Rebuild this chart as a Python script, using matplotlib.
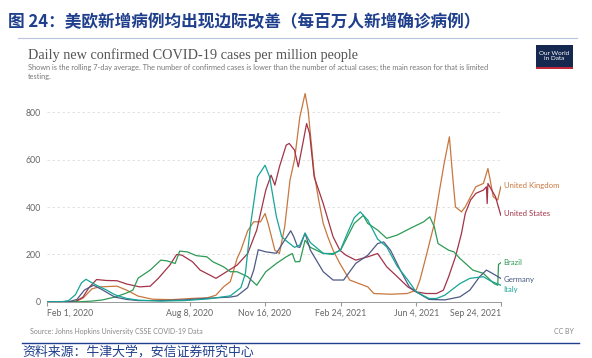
import matplotlib
matplotlib.use("Agg")
import matplotlib.pyplot as plt
import pandas as pd

plt.rcParams["font.family"] = ["Lato", "DejaVu Sans"]

# values: daily new confirmed cases per million (7-day avg)
uk_dates = ["2020-02-01", "2020-03-10", "2020-03-20", "2020-04-01", "2020-04-11", "2020-05-04",
            "2020-05-17", "2020-06-01", "2020-06-20", "2020-07-15", "2020-08-10", "2020-09-01",
            "2020-09-12", "2020-09-22", "2020-10-01", "2020-10-10", "2020-10-15", "2020-10-24",
            "2020-11-01", "2020-11-10", "2020-11-16", "2020-11-20", "2020-11-29", "2020-12-05",
            "2020-12-12", "2020-12-19", "2020-12-25", "2021-01-01", "2021-01-08", "2021-01-12",
            "2021-01-20", "2021-01-26", "2021-02-01", "2021-02-07", "2021-02-14", "2021-02-23",
            "2021-03-08", "2021-04-01", "2021-04-09", "2021-05-01", "2021-05-23", "2021-06-04",
            "2021-06-09", "2021-06-17", "2021-06-27", "2021-07-05", "2021-07-11", "2021-07-18",
            "2021-07-22", "2021-07-26", "2021-08-03", "2021-08-08", "2021-08-15", "2021-08-22",
            "2021-09-01", "2021-09-07", "2021-09-10", "2021-09-14", "2021-09-20", "2021-09-24"]
uk_values = [0, 1, 15, 55, 63, 66, 49, 24, 11, 9, 14, 17, 28, 63, 85, 183, 218, 300, 338, 338,
             373, 331, 218, 204, 317, 514, 600, 780, 880, 810, 542, 430, 331, 275, 218, 162, 92,
             63, 35, 32, 35, 49, 92, 190, 317, 472, 584, 697, 542, 401, 380, 401, 444, 486, 500,
             563, 514, 444, 430, 486]

us_dates = ["2020-02-01", "2020-03-10", "2020-03-20", "2020-03-28", "2020-04-07", "2020-04-20",
            "2020-05-04", "2020-05-17", "2020-06-03", "2020-06-17", "2020-06-28", "2020-07-13",
            "2020-07-22", "2020-07-29", "2020-08-12", "2020-08-22", "2020-09-08", "2020-09-12",
            "2020-09-26", "2020-10-10", "2020-10-24", "2020-11-05", "2020-11-17", "2020-11-24",
            "2020-11-29", "2020-12-05", "2020-12-14", "2020-12-18", "2020-12-25", "2020-12-30",
            "2021-01-05", "2021-01-10", "2021-01-14", "2021-01-20", "2021-02-01", "2021-02-14",
            "2021-02-23", "2021-03-03", "2021-03-16", "2021-04-01", "2021-04-14", "2021-04-26",
            "2021-05-10", "2021-05-24", "2021-06-04", "2021-06-17", "2021-07-01", "2021-07-10",
            "2021-07-17", "2021-07-26", "2021-08-03", "2021-08-08", "2021-08-15", "2021-08-22",
            "2021-09-01", "2021-09-05", "2021-09-06", "2021-09-07", "2021-09-12", "2021-09-17",
            "2021-09-24"]
us_values = [0, 1, 20, 60, 94, 90, 89, 75, 63, 66, 100, 155, 200, 197, 169, 134, 106, 99, 127,
             155, 204, 303, 472, 535, 493, 570, 662, 669, 641, 570, 669, 753, 711, 528, 415, 275,
             218, 197, 176, 190, 204, 148, 106, 63, 42, 35, 35, 49, 106, 190, 289, 373, 430, 458,
             472, 486, 415, 500, 472, 444, 366]

br_dates = ["2020-02-01", "2020-03-15", "2020-04-01", "2020-04-15", "2020-05-01", "2020-05-15",
            "2020-05-25", "2020-06-01", "2020-06-17", "2020-07-01", "2020-07-09", "2020-07-20",
            "2020-07-26", "2020-08-05", "2020-08-17", "2020-08-31", "2020-09-08", "2020-09-22",
            "2020-10-01", "2020-10-10", "2020-10-24", "2020-11-05", "2020-11-17", "2020-12-01",
            "2020-12-14", "2020-12-22", "2020-12-26", "2021-01-01", "2021-01-08", "2021-01-15",
            "2021-02-01", "2021-02-14", "2021-02-24", "2021-03-14", "2021-03-26", "2021-04-01",
            "2021-04-14", "2021-04-26", "2021-05-10", "2021-05-27", "2021-06-14", "2021-06-22",
            "2021-06-28", "2021-07-03", "2021-07-17", "2021-07-24", "2021-08-01", "2021-08-18",
            "2021-09-01", "2021-09-15", "2021-09-20", "2021-09-21", "2021-09-24"]
br_values = [0, 0, 3, 8, 20, 35, 49, 100, 134, 176, 173, 162, 214, 211, 195, 190, 169, 148, 127,
             127, 106, 70, 127, 162, 190, 204, 169, 170, 260, 230, 204, 204, 218, 331, 365, 331,
             303, 268, 282, 310, 338, 359, 317, 246, 218, 211, 183, 134, 120, 77, 70, 158, 165]

de_dates = ["2020-02-01", "2020-03-01", "2020-03-12", "2020-03-22", "2020-04-03", "2020-04-15",
            "2020-05-01", "2020-05-17", "2020-06-01", "2020-07-01", "2020-08-01", "2020-09-01",
            "2020-10-01", "2020-10-10", "2020-10-24", "2020-11-01", "2020-11-07", "2020-11-17",
            "2020-12-01", "2020-12-09", "2020-12-20", "2020-12-24", "2020-12-29", "2021-01-01",
            "2021-01-08", "2021-01-15", "2021-02-01", "2021-02-14", "2021-02-28", "2021-03-16",
            "2021-04-01", "2021-04-14", "2021-04-22", "2021-05-01", "2021-05-14", "2021-05-26",
            "2021-06-04", "2021-06-21", "2021-07-12", "2021-08-01", "2021-08-14", "2021-08-27",
            "2021-09-05", "2021-09-14", "2021-09-24"]
de_values = [0, 0, 10, 50, 70, 50, 20, 10, 5, 5, 8, 15, 20, 25, 60, 134, 220, 211, 205, 246,
             300, 275, 232, 230, 290, 218, 127, 92, 92, 162, 197, 246, 253, 218, 134, 63, 42, 10,
             8, 21, 49, 106, 134, 118, 99]

it_dates = ["2020-02-01", "2020-02-20", "2020-03-01", "2020-03-10", "2020-03-18", "2020-03-24",
            "2020-04-01", "2020-04-10", "2020-04-20", "2020-05-01", "2020-05-17", "2020-06-01",
            "2020-07-01", "2020-08-01", "2020-09-01", "2020-10-01", "2020-10-15", "2020-10-21",
            "2020-10-28", "2020-11-06", "2020-11-16", "2020-11-22", "2020-12-01", "2020-12-08",
            "2020-12-15", "2020-12-25", "2021-01-01", "2021-01-08", "2021-01-15", "2021-02-01",
            "2021-02-14", "2021-02-24", "2021-03-05", "2021-03-14", "2021-03-22", "2021-04-01",
            "2021-04-14", "2021-04-26", "2021-05-10", "2021-05-24", "2021-06-04", "2021-06-21",
            "2021-07-01", "2021-07-12", "2021-08-01", "2021-08-14", "2021-09-01", "2021-09-10",
            "2021-09-24"]
it_values = [0, 0, 5, 30, 80, 95, 80, 65, 50, 30, 14, 7, 3, 5, 12, 25, 60, 120, 330, 528, 577,
             528, 360, 275, 255, 230, 240, 290, 250, 205, 200, 220, 290, 355, 380, 345, 265, 232,
             150, 92, 42, 14, 14, 28, 77, 99, 106, 89, 70]

tick_dates = ["2020-02-01", "2020-08-08", "2020-11-16", "2021-02-24", "2021-06-04", "2021-09-24"]
tick_labels = ["Feb 1, 2020", "Aug 8, 2020", "Nov 16, 2020", "Feb 24, 2021", "Jun 4, 2021",
               "Sep 24, 2021"]

series = [
    ("United Kingdom", uk_dates, uk_values, "#c8773e", 490),
    ("United States", us_dates, us_values, "#a23348", 373),
    ("Brazil", br_dates, br_values, "#2e9a55", 168),
    ("Germany", de_dates, de_values, "#4d5a85", 95),
    ("Italy", it_dates, it_values, "#16a596", 53),
]

fig = plt.figure(figsize=(5.92, 3.58), dpi=100)
ax = fig.add_axes([0.0789, 0.157, 0.767, 0.595])

for name, d, v, color, label_y in series:
    dt = pd.to_datetime(d)
    ax.plot(dt, v, color=color, lw=0.9)
    ax.annotate(name, xy=(dt[-1], label_y), xytext=(2, 0), textcoords="offset points",
                color=color, fontsize=5.6, va="center", annotation_clip=False)

ax.set_xlim(pd.Timestamp("2020-02-01"), pd.Timestamp("2021-09-24"))
ax.set_ylim(0, 900)
ax.set_yticks([0, 200, 400, 600, 800])
ax.set_xticks(pd.to_datetime(tick_dates))
ax.set_xticklabels(tick_labels)
xl = ax.get_xticklabels()
xl[0].set_ha("left")
xl[-1].set_ha("right")
ax.grid(axis="y", color="#dddddd", lw=0.6, ls=(0, (3, 3)))
ax.set_axisbelow(True)
for s in ["top", "right", "left"]:
    ax.spines[s].set_visible(False)
ax.spines["bottom"].set_color("#999999")
ax.spines["bottom"].set_linewidth(0.7)
ax.tick_params(axis="y", length=0, labelsize=6.3, labelcolor="#666666", pad=4)
ax.tick_params(axis="x", length=3, color="#999999", labelsize=6.3, labelcolor="#666666", pad=2)

# header
fig.text(0.014, 0.938, "图 24：美欧新增病例均出现边际改善（每百万人新增确诊病例）",
         family=["Noto Sans CJK SC", "DejaVu Sans"], fontsize=12, fontweight="bold",
         color="#1f3f8c", va="center")
fig.add_artist(plt.Line2D([0.03, 0.975], [0.893, 0.893], color="#b8c4dc", lw=0.8))
fig.text(0.047, 0.847, "Daily new confirmed COVID-19 cases per million people",
         family="Liberation Serif", fontsize=10.3, color="#555555", va="center")
fig.text(0.047, 0.812, "Shown is the rolling 7-day average. The number of confirmed cases is lower "
         "than the number of actual cases; the main reason for that is limited",
         fontsize=5.3, color="#777777", va="center")
fig.text(0.047, 0.787, "testing.", fontsize=5.3, color="#777777", va="center")

# logo
fig.patches.append(plt.Rectangle((0.905, 0.81), 0.063, 0.065, transform=fig.transFigure,
                                 facecolor="#142850", edgecolor="none"))
fig.patches.append(plt.Rectangle((0.905, 0.806), 0.063, 0.006, transform=fig.transFigure,
                                 facecolor="#c0283a", edgecolor="none"))
fig.text(0.9365, 0.843, "Our World\nin Data", fontsize=4.6, color="white", ha="center",
         va="center", linespacing=1.0)

# footer
fig.text(0.05, 0.073, "Source: Johns Hopkins University CSSE COVID-19 Data", fontsize=5,
         color="#888888", va="center")
fig.text(0.97, 0.073, "CC BY", fontsize=5, color="#888888", va="center", ha="right")
fig.add_artist(plt.Line2D([0.038, 0.978], [0.042, 0.042], color="#1f3f8c", lw=1.0))
fig.text(0.037, 0.016, "资料来源：牛津大学，安信证券研究中心",
         family=["Noto Sans CJK SC", "DejaVu Sans"], fontsize=9.3, color="#1f3f8c",
         va="center", style="italic")

fig.savefig("out.png", dpi=100)
